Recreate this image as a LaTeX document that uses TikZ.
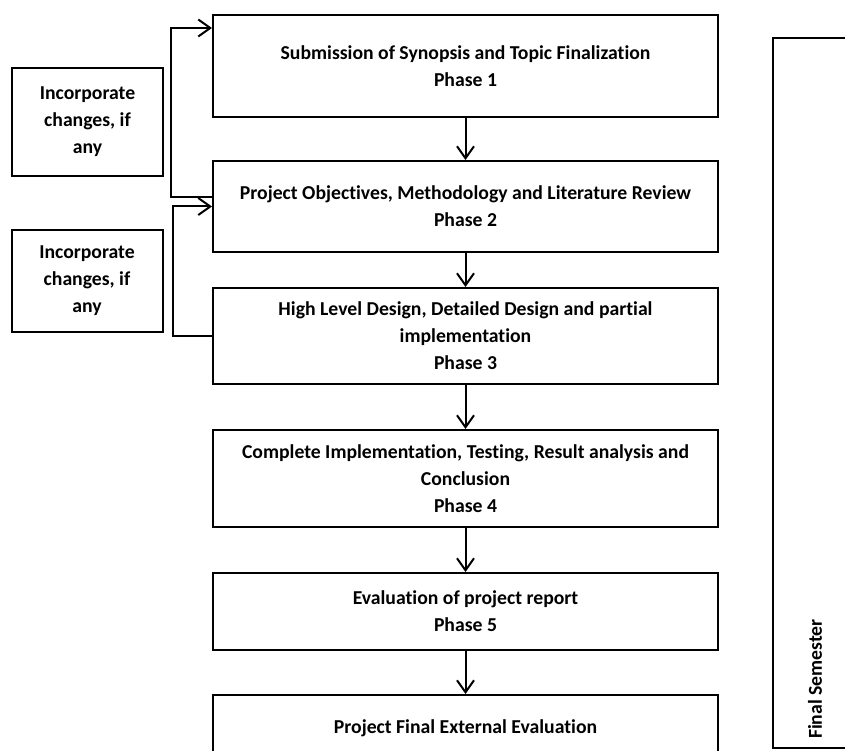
\documentclass[tikz,border=0pt]{standalone}
\usepackage{fontspec}
\setmainfont{Carlito}[Ligatures=CommonOff]
\usetikzlibrary{arrows.meta}

\tikzset{
  phase/.style={draw, line width=2pt, minimum width=505pt, align=center,
    inner sep=0pt, font=\bfseries\fontsize{19.7}{27}\selectfont},
  remark/.style={draw, line width=2pt, minimum width=151pt, align=center,
    inner sep=0pt, font=\bfseries\fontsize{19.7}{27}\selectfont},
  flow/.style={line width=2pt, -{Straight Barb[length=12pt,width=17pt]}}
}

\begin{document}
\begin{tikzpicture}[x=1pt,y=-1pt]
\useasboundingbox (0,0) rectangle (845,751);
\clip (0,0) rectangle (845,751);

% phases
\node [phase, minimum height=102pt] (p1) at (465.5,66) {Submission of Synopsis and Topic Finalization\\Phase 1};
\node [phase, minimum height=91pt] (p2) at (465.5,206.5) {Project Objectives, Methodology and Literature Review\\Phase 2};
\node [phase, minimum height=96pt] (p3) at (465.5,336) {High Level Design, Detailed Design and partial\\implementation\\Phase 3};
\node [phase, minimum height=97pt] (p4) at (465.5,478.5) {Complete Implementation, Testing, Result analysis and\\Conclusion\\Phase 4};
\node [phase, minimum height=77pt] (p5) at (465.5,611.5) {Evaluation of project report\\Phase 5};
\node [phase, minimum height=66pt] (p6) at (465.5,728) {Project Final External Evaluation};

% side notes
\node [remark, minimum height=108pt] (chg1) at (87.5,122) {Incorporate\\changes, if\\any};
\node [remark, minimum height=102pt] (chg2) at (87,281) {Incorporate\\changes, if\\any};

% semester frame
\node [draw, line width=2pt, minimum width=87pt, minimum height=710pt] (sem) at (816.5,393) {};
\node [rotate=90, font=\bfseries\fontsize{19.7}{27}\selectfont] (semtxt) at (815,679) {Final Semester};

\draw [flow] (p1) -- (p2);
\draw [flow] (p2) -- (p3);
\draw [flow] (p3) -- (p4);
\draw [flow] (p4) -- (p5);
\draw [flow] (p5) -- (p6);

% loops back
\draw [flow] ([yshift=9.5pt]p2.west) -- ++(-41,0) |- ([yshift=38pt]p1.west);
\draw [flow] (p3.west) -- ++(-39,0) |- (p2.west);
\end{tikzpicture}
\end{document}
